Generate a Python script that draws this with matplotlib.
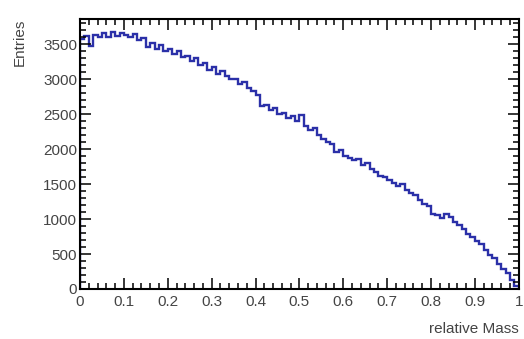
import matplotlib

matplotlib.use("Agg")
import matplotlib.pyplot as plt
import numpy as np
from matplotlib.ticker import MultipleLocator

# histogram: 100 bins on [0, 1]
BIN_EDGES_LO = 0.0
BIN_EDGES_HI = 1.0
N_BINS = 100
ENTRIES = [
    3580, 3620, 3480, 3640, 3600, 3660, 3610, 3680, 3620, 3660,
    3640, 3600, 3650, 3560, 3590, 3460, 3520, 3430, 3490, 3400,
    3430, 3360, 3400, 3320, 3330, 3260, 3300, 3200, 3240, 3140,
    3180, 3080, 3120, 3050, 3000, 3010, 2930, 2960, 2870, 2840,
    2780, 2620, 2640, 2560, 2590, 2500, 2520, 2450, 2480, 2400,
    2490, 2330, 2280, 2300, 2200, 2150, 2100, 2080, 1960, 1990,
    1900, 1870, 1840, 1860, 1780, 1800, 1720, 1680, 1620, 1600,
    1560, 1520, 1480, 1500, 1420, 1370, 1340, 1270, 1220, 1190,
    1080, 1060, 1010, 1070, 1030, 960, 920, 860, 780, 740,
    690, 640, 560, 490, 450, 360, 290, 230, 130, 50,
]
X_LABEL = "relative Mass"
Y_LABEL = "Entries"
LINE_COLOR = "#2b30a8"

plt.rcParams.update({"font.family": "Liberation Sans", "font.size": 11})

fig = plt.figure(figsize=(5.24, 3.39), dpi=100)
ax = fig.add_axes([0.1527, 0.1475, 0.8373, 0.7965])

edges = np.linspace(BIN_EDGES_LO, BIN_EDGES_HI, N_BINS + 1)
ax.stairs(ENTRIES, edges, color=LINE_COLOR, linewidth=1.7)

ax.set_xlim(BIN_EDGES_LO, BIN_EDGES_HI)
ax.set_ylim(0, 1.05 * max(ENTRIES))
ax.xaxis.set_major_locator(MultipleLocator(0.1))
ax.xaxis.set_minor_locator(MultipleLocator(0.02))
ax.yaxis.set_major_locator(MultipleLocator(500))
ax.yaxis.set_minor_locator(MultipleLocator(100))
ax.xaxis.set_major_formatter(plt.FuncFormatter(lambda v, _: f"{v:g}"))

for side in ax.spines.values():
    side.set_linewidth(1.5)
ax.tick_params(which="both", direction="in", top=True, right=True,
               colors="black", labelcolor="#444444", width=1.1)
ax.tick_params(which="major", length=8)
ax.tick_params(axis="y", which="major", pad=2)
ax.tick_params(axis="x", which="major", pad=4)
ax.tick_params(which="minor", length=4)

ax.set_xlabel(X_LABEL, color="#444444", loc="right", labelpad=10)
ax.set_ylabel(Y_LABEL, color="#444444", loc="top", labelpad=12)

fig.savefig("out.png", dpi=100, facecolor="white")
plt.close(fig)
